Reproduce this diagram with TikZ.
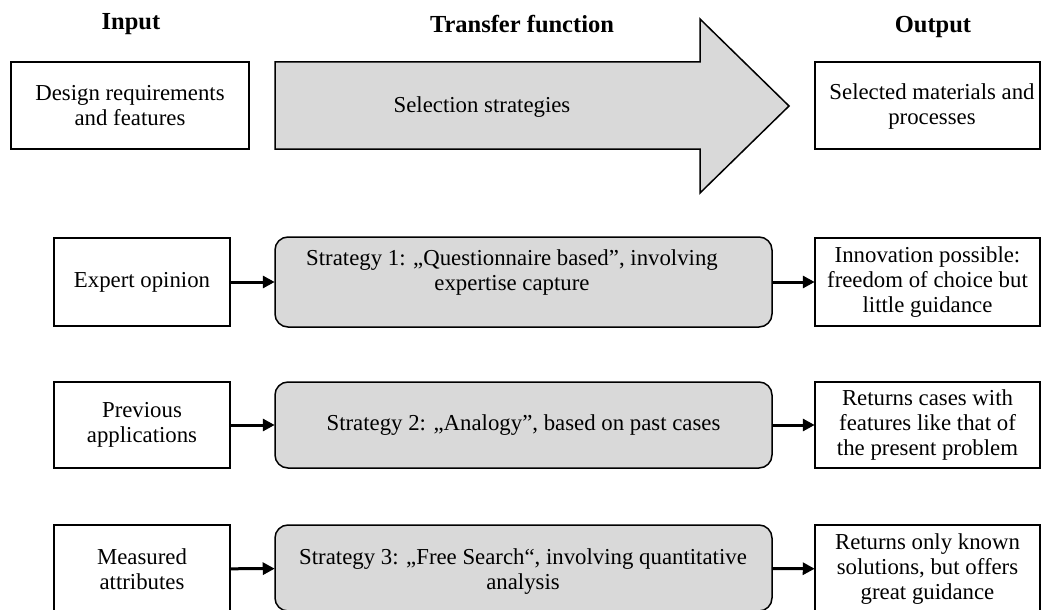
\documentclass[tikz,border=0pt]{standalone}
\usepackage{fontspec}
\setmainfont{Liberation Serif}
\usetikzlibrary{arrows.meta}
\definecolor{boxgray}{HTML}{D9D9D9}
\begin{document}
\begin{tikzpicture}[x=1pt,y=-1pt,
  every node/.style={font=\fontsize{22.8}{25}\selectfont, align=center, inner sep=0pt},
  plainbox/.style={draw, line width=1.5pt, fill=white},
  stratbox/.style={draw, line width=1.5pt, fill=boxgray, rounded corners=13pt},
  heading/.style={font=\fontsize{24.5}{26}\selectfont\bfseries},
  conn/.style={line width=3pt, -{Triangle[length=12pt,width=12pt]}, shorten >=-0.5pt}]
\useasboundingbox (0,0) rectangle (1042,610);
\clip (0,0) rectangle (1042,610);
% headings
\node[heading] (hin) at (131,24) {Input};
\node[heading] (htf) at (522,24) {Transfer function};
\node[heading] (hout) at (933,27) {Output};
% top row
\node[plainbox, minimum width=238pt, minimum height=87pt] (din) at (130,105.5) {Design requirements\\and features};
\draw[line width=1.5pt, fill=boxgray] (275,62) -- (700,62) -- (700,19) -- (789,106) -- (700,193) -- (700,149) -- (275,149) -- cycle;
\node (sel) at (482,107) {Selection strategies};
\node[plainbox, minimum width=225pt, minimum height=87pt] (dout) at (927.5,105.5) {};
\node (douttxt) at (932,107) {Selected materials and\\processes};
% row 1
\node[plainbox, minimum width=176pt, minimum height=88pt] (l1) at (142,282) {Expert opinion};
\node[stratbox, minimum width=497pt, minimum height=90pt] (s1) at (523.5,282) {};
\node (s1txt) at (512,273) {Strategy 1: „Questionnaire based”, involving\\expertise capture};
\node[plainbox, minimum width=225pt, minimum height=88pt] (r1) at (927.5,282) {Innovation possible:\\freedom of choice but\\little guidance};
% row 2
\node[plainbox, minimum width=176pt, minimum height=86pt] (l2) at (142,425) {Previous\\applications};
\node[stratbox, minimum width=497pt, minimum height=86pt] (s2) at (523.5,425) {Strategy 2: „Analogy”, based on past cases};
\node[plainbox, minimum width=225pt, minimum height=86pt] (r2) at (927.5,425) {Returns cases with\\features like that of\\the present problem};
% row 3
\node[plainbox, minimum width=176pt, minimum height=88pt] (l3) at (142,569) {Measured\\attributes};
\node[stratbox, minimum width=497pt, minimum height=86pt] (s3) at (523.5,568) {};
\node (s3txt) at (523,572) {Strategy 3: „Free Search“, involving quantitative\\analysis};
\node[plainbox, minimum width=225pt, minimum height=88pt] (r3) at (927.5,569) {Returns only known\\solutions, but offers\\great guidance};
% connectors
\draw[conn] (l1) -- (s1);
\draw[conn] (s1) -- (r1);
\draw[conn] (l2) -- (s2);
\draw[conn] (s2) -- (r2);
\draw[conn] (l3) -- (s3);
\draw[conn] (s3) -- (r3);
\end{tikzpicture}
\end{document}
